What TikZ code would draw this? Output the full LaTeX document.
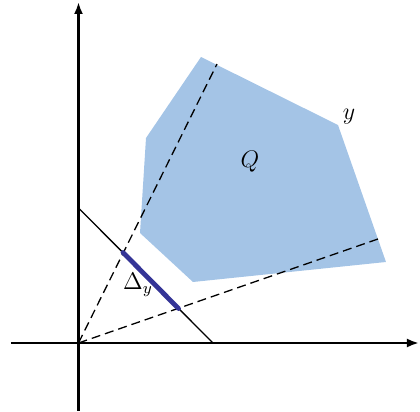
\documentclass[tikz,border=0pt]{standalone}
\usetikzlibrary{arrows.meta,calc}
\definecolor{qfill}{RGB}{164,196,230}
\definecolor{segblue}{RGB}{52,52,150}
\begin{document}
\begin{tikzpicture}[x=0.5pt,y=-0.5pt,
  axis/.style={line width=1.3pt,-{Latex[length=6pt,width=4.5pt]}},
  thinline/.style={line width=0.65pt},
  dashline/.style={line width=0.65pt,dash pattern=on 4.5pt off 2.5pt},
  seg/.style={line width=2.4pt,segblue,line cap=round},
  lbl/.style={inner sep=0pt}]
\useasboundingbox (0,0) rectangle (420,412);
% region Q
\fill[qfill] (201,57) -- (338,125) -- (386,262) -- (193,282) -- (140,233) -- (146,138) -- cycle;
% coordinates
\coordinate (O) at (78.5,343);
\coordinate (xl) at (11,343);
\coordinate (xr) at (419,343);
\coordinate (yb) at (78.5,411);
\coordinate (yt) at (78.5,2);
\coordinate (d1) at (78.5,208);
\coordinate (d2) at (213,343);
\coordinate (u) at (217,64);
\coordinate (r) at (378,239);
\coordinate (p1) at (123,252.5);
\coordinate (p2) at (178.5,308.5);
% axes
\draw[axis] (xl) -- (xr);
\draw[axis] (yb) -- (yt);
% diagonal
\draw[thinline] (d1) -- (d2);
% dashed rays
\draw[dashline] (O) -- (u);
\draw[dashline] (O) -- (r);
% segment
\draw[seg] (p1) -- (p2);
% labels
\node[lbl] (Q) at (250,162) {\large $Q$};
\node[lbl] (y) at (349,117) {\large $y$};
\node[lbl] (D) at (138,285) {\large $\Delta_y$};
\end{tikzpicture}
\end{document}
